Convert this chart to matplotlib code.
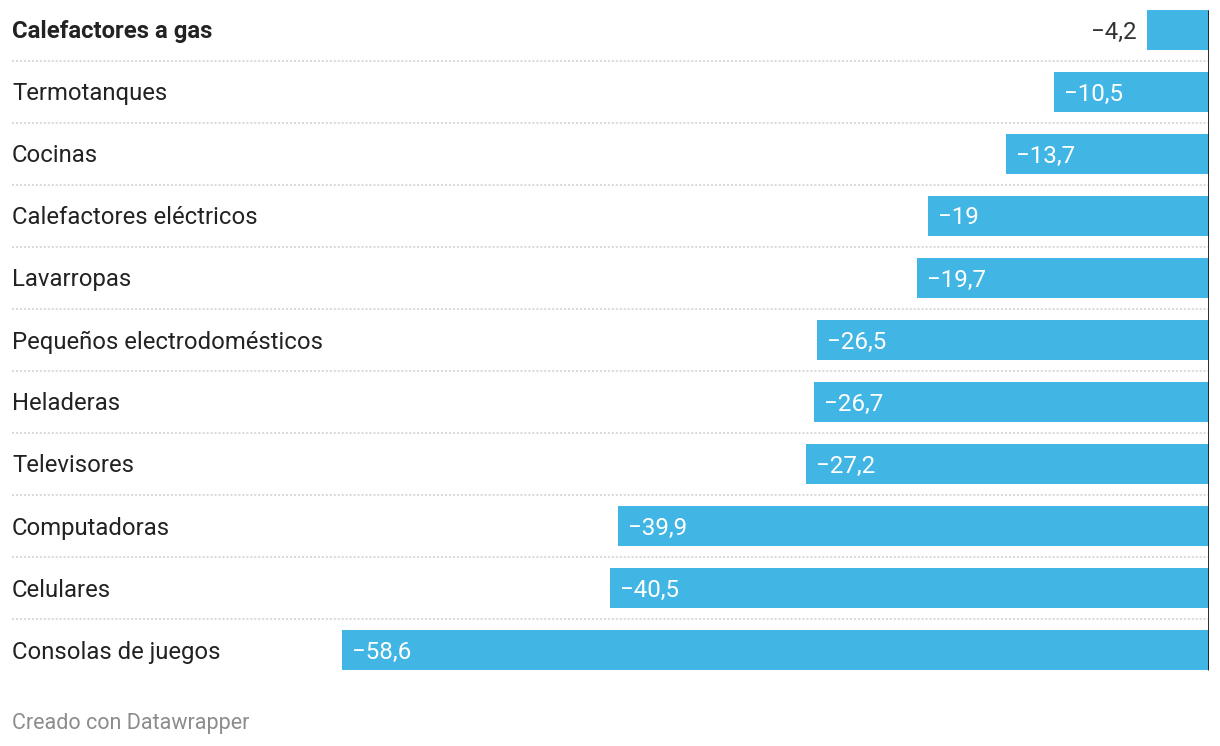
import matplotlib.pyplot as plt
import numpy as np

categorias = ['Calefactores a gas', 'Termotanques', 'Cocinas', 'Calefactores eléctricos',
              'Lavarropas', 'Pequeños electrodomésticos', 'Heladeras', 'Televisores',
              'Computadoras', 'Celulares', 'Consolas de juegos']
valores = [-4.2, -10.5, -13.7, -19, -19.7, -26.5, -26.7, -27.2, -39.9, -40.5, -58.6]
etiquetas = ['−4,2', '−10,5', '−13,7', '−19', '−19,7', '−26,5', '−26,7', '−27,2',
             '−39,9', '−40,5', '−58,6']
negrita = ['Calefactores a gas']

plt.rcParams['font.family'] = ['Roboto', 'DejaVu Sans']

W, H = 1220, 746
fig = plt.figure(figsize=(W / 100, H / 100), dpi=100)
# axes in pixel terms: x 12..1209, rows of 62 px
ax = fig.add_axes([12 / W, (H - 681) / H, 1197 / W, 682 / H])
ax.set_xlim(-1197 / 14.8, 0)
ax.set_ylim(len(categorias) - 0.5, -0.5)
ax.axis('off')

y = np.arange(len(categorias))
bar_h = 40 / 62
ax.barh(y, valores, height=bar_h, color='#41b5e4', zorder=2)

# dotted separators
for i in range(len(categorias) - 1):
    ax.plot([-1197 / 14.8, 0], [i + 0.5, i + 0.5], color='#cfcfcf', lw=1.1,
            dashes=(1.3, 1.3), zorder=1)

ax.vlines(0, -bar_h / 2, len(categorias) - 1 + bar_h / 2, color='#1a1a1a', lw=2.0, zorder=3)

off = 10 / 14.8
dy = 2 / 62  # nudge text down a bit
for yi, cat, v, lab in zip(y, categorias, valores, etiquetas):
    ax.text(0, yi + dy, cat, transform=ax.get_yaxis_transform(), ha='left', va='center',
            fontsize=17.2, color='#222222',
            fontweight='bold' if cat in negrita else 'normal')
    if v > -6:
        ax.text(v - off, yi + dy, lab, ha='right', va='center', fontsize=17.4, color='#333333')
    else:
        ax.text(v + off, yi + dy, lab, ha='left', va='center', fontsize=17.4, color='white')

fig.text(12 / W, 1 - 724 / H, 'Creado con Datawrapper', ha='left', va='center',
         fontsize=15.5, color='#8c8c8c')

fig.savefig('out.png', dpi=100)
